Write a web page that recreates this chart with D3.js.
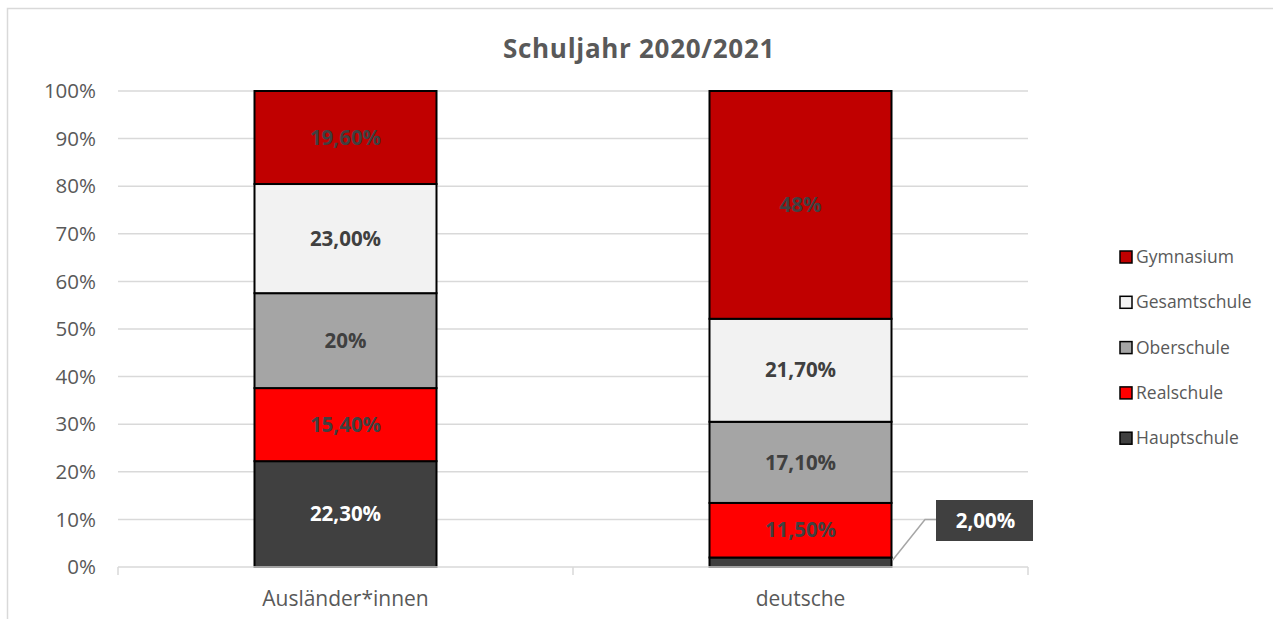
<!DOCTYPE html>
<html>
<head>
<meta charset="utf-8">
<script src="https://cdn.jsdelivr.net/npm/d3@7"></script>
<style>
  body { margin: 0; background: #fff; }
  svg { display: block; font-family: "Open Sans", Lato, sans-serif; }
</style>
</head>
<body>
<svg id="chart" width="1273" height="619"></svg>
<script>
// Data
const categories = ["Ausländer*innen", "deutsche"];
const schools = ["Hauptschule", "Realschule", "Oberschule", "Gesamtschule", "Gymnasium"];
const hauptschule = [22.3, 2.0];
const realschule = [15.4, 11.5];
const oberschule = [20, 17.1];
const gesamtschule = [23.0, 21.7];
const gymnasium = [19.6, 48];
const labels = {
  Hauptschule: ["22,30%", "2,00%"],
  Realschule: ["15,40%", "11,50%"],
  Oberschule: ["20%", "17,10%"],
  Gesamtschule: ["23,00%", "21,70%"],
  Gymnasium: ["19,60%", "48%"]
};
const yTicks = [0, 0.1, 0.2, 0.3, 0.4, 0.5, 0.6, 0.7, 0.8, 0.9, 1];

const colors = {
  Hauptschule: "#404040",
  Realschule: "#FF0000",
  Oberschule: "#A5A5A5",
  Gesamtschule: "#F2F2F2",
  Gymnasium: "#C00000"
};

const rows = categories.map((c, i) => ({
  cat: c,
  Hauptschule: hauptschule[i],
  Realschule: realschule[i],
  Oberschule: oberschule[i],
  Gesamtschule: gesamtschule[i],
  Gymnasium: gymnasium[i]
}));

const svg = d3.select("#chart");

// outer chart border
svg.append("rect")
  .attr("x", 7.5).attr("y", 8.5)
  .attr("width", 1290).attr("height", 640)
  .attr("fill", "none").attr("stroke", "#D9D9D9").attr("stroke-width", 1.5);

const plotLeft = 118, plotRight = 1028, plotTop = 91, plotBottom = 567;

const x = d3.scaleBand().domain(categories).range([plotLeft, plotRight]).paddingInner(0.6).paddingOuter(0.3);
const y = d3.scaleLinear().domain([0, 1]).range([plotBottom, plotTop]);

// gridlines
svg.append("g")
  .selectAll("line")
  .data(yTicks.slice(1))
  .enter().append("line")
  .attr("x1", plotLeft).attr("x2", plotRight)
  .attr("y1", d => y(d)).attr("y2", d => y(d))
  .attr("stroke", "#D9D9D9").attr("stroke-width", 1.5);

// y axis labels
svg.append("g")
  .selectAll("text")
  .data(yTicks)
  .enter().append("text")
  .attr("x", 96).attr("y", d => y(d))
  .attr("dy", "0.35em")
  .attr("text-anchor", "end")
  .attr("font-size", 20.5)
  .attr("fill", "#595959")
  .text(d => d3.format(".0%")(d));

// stacked bars (normalised to 100%)
const stack = d3.stack().keys(schools).offset(d3.stackOffsetExpand);
const series = stack(rows);

const bw = x.bandwidth();
const layer = svg.append("g")
  .selectAll("g")
  .data(series)
  .enter().append("g");

layer.selectAll("rect")
  .data(s => s.map((d, i) => ({ key: s.key, i, y0: d[0], y1: d[1], cat: d.data.cat })))
  .enter().append("rect")
  .attr("x", d => x(d.cat))
  .attr("width", bw)
  .attr("y", d => y(d.y1))
  .attr("height", d => y(d.y0) - y(d.y1))
  .attr("fill", d => colors[d.key])
  .attr("stroke", "#000")
  .attr("stroke-width", 2);

// data labels
layer.selectAll("text")
  .data(s => s.map((d, i) => ({ key: s.key, i, y0: d[0], y1: d[1], cat: d.data.cat })))
  .enter()
  .filter(d => !(d.key === "Hauptschule" && d.i === 1))
  .append("text")
  .attr("x", d => x(d.cat) + bw / 2)
  .attr("y", d => y((d.y0 + d.y1) / 2))
  .attr("dy", "0.35em")
  .attr("text-anchor", "middle")
  .attr("font-size", 20.5)
  .attr("font-weight", "bold")
  .attr("fill", d => d.key === "Hauptschule" ? "#fff" : "#404040")
  .text(d => labels[d.key][d.i]);

// callout for small segment
const small = series[0][1];
const cx = x(categories[1]) + bw;
const cy = y((small[0] + small[1]) / 2);
const boxX = 936, boxY = 500, boxW = 97, boxH = 41;
svg.append("polyline")
  .attr("points", [[cx + 1, cy - 2], [925, boxY + boxH / 2 - 1], [boxX, boxY + boxH / 2 - 1]].map(p => p.join(",")).join(" "))
  .attr("fill", "none").attr("stroke", "#A6A6A6").attr("stroke-width", 1.5);
svg.append("rect")
  .attr("x", boxX).attr("y", boxY).attr("width", boxW).attr("height", boxH)
  .attr("fill", "#404040");
svg.append("text")
  .attr("x", boxX + boxW / 2 + 1).attr("y", boxY + boxH / 2)
  .attr("dy", "0.35em")
  .attr("text-anchor", "middle")
  .attr("font-size", 20.5).attr("font-weight", "bold")
  .attr("fill", "#fff")
  .text(labels.Hauptschule[1]);

// x axis
const xAxis = svg.append("g");
xAxis.append("line")
  .attr("x1", plotLeft).attr("x2", plotRight).attr("y1", plotBottom).attr("y2", plotBottom)
  .attr("stroke", "#D9D9D9").attr("stroke-width", 1.5);
const bounds = [plotLeft, (plotLeft + plotRight) / 2, plotRight];
xAxis.selectAll(".tk")
  .data(bounds)
  .enter().append("line")
  .attr("x1", d => d).attr("x2", d => d)
  .attr("y1", plotBottom).attr("y2", plotBottom + 8)
  .attr("stroke", "#D9D9D9").attr("stroke-width", 1.5);
xAxis.selectAll("text")
  .data(categories)
  .enter().append("text")
  .attr("x", d => x(d) + bw / 2)
  .attr("y", 599)
  .attr("dy", "0.35em")
  .attr("text-anchor", "middle")
  .attr("font-size", 21)
  .attr("fill", "#595959")
  .text(d => d);

// title
svg.append("text")
  .attr("x", 639).attr("y", 58)
  .attr("text-anchor", "middle")
  .attr("font-size", 26).attr("font-weight", "bold")
  .attr("letter-spacing", 0.7)
  .attr("fill", "#595959")
  .text("Schuljahr 2020/2021");

// legend
const legendOrder = schools.slice().reverse();
const lg = svg.append("g")
  .selectAll("g")
  .data(legendOrder)
  .enter().append("g")
  .attr("transform", (d, i) => `translate(1120, ${257 + i * 45.3})`);
lg.append("rect")
  .attr("x", 0).attr("y", -6).attr("width", 12).attr("height", 12)
  .attr("fill", d => colors[d])
  .attr("stroke", "#000").attr("stroke-width", 1.5);
lg.append("text")
  .attr("x", 16).attr("y", 0)
  .attr("dy", "0.35em")
  .attr("font-size", 17.5)
  .attr("fill", "#595959")
  .text(d => d);
</script>
</body>
</html>
